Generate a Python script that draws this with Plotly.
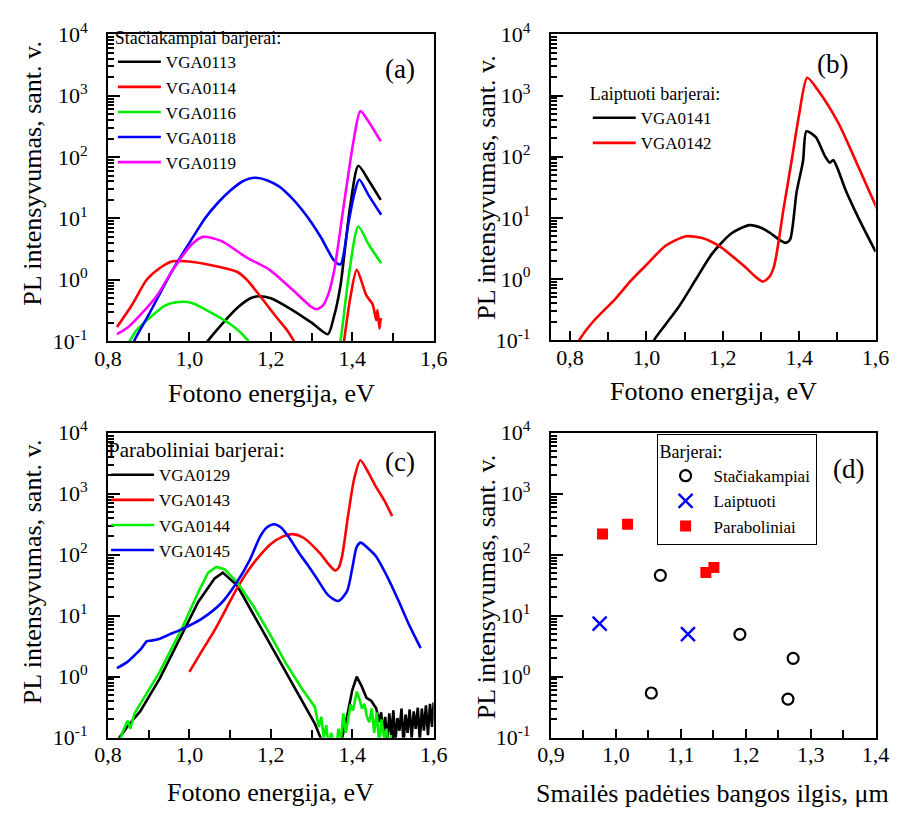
import plotly.graph_objects as go

# ---------------- (a) rectangular barriers ----------------
e_0113 = [1.030, 1.045, 1.08, 1.12, 1.15, 1.17, 1.20, 1.25, 1.30, 1.34, 1.355, 1.371, 1.395, 1.415, 1.44, 1.47]
i_0113 = [0.07, 0.10, 0.19, 0.36, 0.50, 0.54, 0.50, 0.33, 0.20, 0.13, 0.25, 0.80, 16, 72, 42, 20]

e_0114 = [0.822, 0.86, 0.895, 0.93, 0.959, 0.99, 1.054, 1.117, 1.141, 1.173, 1.213, 1.24, 1.253, 1.265,
          None, 1.378, 1.395, 1.411, 1.435, 1.450, 1.459, 1.462, 1.467, 1.470]
i_0114 = [0.17, 0.40, 1.0, 1.6, 2.0, 2.0, 1.73, 1.35, 1.0, 0.55, 0.25, 0.15, 0.11, 0.08,
          None, 0.08, 0.5, 1.45, 0.55, 0.40, 0.22, 0.32, 0.16, 0.24]

e_0116 = [0.845, 0.870, 0.911, 0.940, 0.967, 1.006, 1.062, 1.110, 1.140, 1.155,
          None, 1.365, 1.371, 1.391, 1.415, 1.44, 1.471]
i_0116 = [0.08, 0.15, 0.27, 0.38, 0.43, 0.42, 0.27, 0.17, 0.11, 0.08,
          None, 0.07, 0.10, 1.1, 7.4, 3.8, 1.86]

e_0118 = [0.855, 0.864, 0.90, 0.959, 1.00, 1.038, 1.07, 1.102, 1.13, 1.161, 1.19, 1.221, 1.25,
          1.276, 1.30, 1.324, 1.355, 1.371, 1.391, 1.405, 1.417, 1.44, 1.471]
i_0118 = [0.07, 0.10, 0.27, 1.45, 4.0, 10, 18, 29, 40, 46, 42, 33, 22,
          14, 8.5, 4.8, 2.07, 1.78, 8.7, 25, 43, 24, 11.5]

e_0119 = [0.822, 0.85, 0.88, 0.92, 0.959, 1.006, 1.034, 1.078, 1.141, 1.197, 1.252, 1.30, 1.312,
          1.328, 1.342, 1.356, 1.379, 1.403, 1.42, 1.44, 1.47]
i_0119 = [0.13, 0.17, 0.27, 0.55, 1.45, 3.8, 5.0, 4.3, 2.3, 1.45, 0.70, 0.36, 0.33,
          0.38, 0.6, 1.45, 16, 180, 560, 380, 180]

# ---------------- (b) stepped barriers ----------------
e_0141 = [1.00, 1.02, 1.05, 1.087, 1.13, 1.172, 1.223, 1.27, 1.30, 1.325, 1.35, 1.364, 1.376,
          1.393, 1.41, 1.419, 1.443, 1.468, 1.480, 1.489, 1.50, 1.52, 1.555, 1.60]
i_0141 = [0.05, 0.10, 0.18, 0.37, 1.0, 2.6, 5.6, 7.6, 6.9, 5.6, 4.3, 3.9, 4.4,
          26, 85, 260, 210, 100, 80, 88, 65, 30, 10, 2.8]

e_0142 = [0.80, 0.824, 0.86, 0.918, 0.96, 1.003, 1.05, 1.104, 1.15, 1.189, 1.22, 1.257, 1.285,
          1.304, 1.32, 1.334, 1.359, 1.38, 1.40, 1.421, 1.45, 1.502, 1.55, 1.604]
i_0142 = [0.05, 0.10, 0.2, 0.47, 0.95, 1.78, 3.5, 5.0, 4.6, 3.5, 2.5, 1.6, 1.1,
          0.91, 1.05, 1.6, 14, 85, 500, 1950, 1200, 360, 80, 14]

# ---------------- (c) parabolic barriers ----------------
e_0129 = [0.820, 0.828, 0.850, 0.879, 0.927, 0.983, 1.022, 1.062, 1.082, 1.117, 1.157, 1.197,
          1.236, 1.276, 1.308, 1.322, 1.335,
          None, 1.372, 1.387, 1.400, 1.411, 1.423, 1.435, 1.447, 1.459,
          1.466, 1.471, 1.476, 1.481, 1.486, 1.491, 1.496, 1.501, 1.506, 1.511, 1.516, 1.521,
          1.526, 1.531, 1.536, 1.541, 1.546, 1.551, 1.556, 1.561, 1.566, 1.571, 1.576, 1.581,
          1.586, 1.591, 1.596, 1.600]
i_0129 = [0.06, 0.10, 0.16, 0.27, 0.93, 5.1, 17, 41, 51, 31.6, 10.6, 3.5,
          1.2, 0.40, 0.17, 0.10, 0.07,
          None, 0.08, 0.22, 0.60, 1.0, 0.70, 0.45, 0.40, 0.30,
          0.18, 0.26, 0.12, 0.22, 0.08, 0.25, 0.11, 0.28, 0.09, 0.21, 0.13, 0.30,
          0.08, 0.24, 0.12, 0.29, 0.10, 0.27, 0.14, 0.31, 0.09, 0.30, 0.13, 0.34,
          0.11, 0.36, 0.15, 0.38]

e_0143 = [1.000, 1.030, 1.062, 1.090, 1.117, 1.140, 1.165, 1.20, 1.23, 1.254, 1.28, 1.32,
          1.345, 1.358, 1.367, 1.375, 1.39, 1.405, 1.42, 1.44, 1.457, 1.48, 1.498]
i_0143 = [1.2, 2.6, 5.8, 13, 28, 50, 84, 150, 200, 218, 190, 107,
          66, 55, 62, 94, 450, 1800, 3550, 2200, 1350, 750, 430]

e_0144 = [0.825, 0.835, 0.848, 0.855, 0.865, 0.879, 0.927, 0.983, 1.022, 1.046, 1.066, 1.086,
          1.117, 1.157, 1.197, 1.236, 1.276, 1.308, 1.318, 1.324, 1.330, 1.336, 1.342, 1.348,
          1.354, 1.360, 1.366, 1.372, 1.378, 1.384, 1.390, 1.396, 1.402, 1.411, 1.418, 1.424,
          1.430, 1.436, 1.442, 1.448, 1.454, 1.460, 1.466, 1.472, 1.478, 1.484, 1.490, 1.496, 1.500]
i_0144 = [0.07, 0.12, 0.19, 0.14, 0.25, 0.36, 1.2, 6.5, 24.5, 51, 63, 58,
          35.7, 14.4, 5.1, 1.7, 0.64, 0.32, 0.15, 0.22, 0.10, 0.16, 0.07, 0.12,
          0.08, 0.06, 0.14, 0.09, 0.25, 0.12, 0.20, 0.35, 0.28, 0.57, 0.42, 0.30,
          0.36, 0.22, 0.18, 0.30, 0.12, 0.26, 0.08, 0.20, 0.10, 0.14, 0.07, 0.11, 0.06]

e_0145 = [0.822, 0.845, 0.864, 0.880, 0.895, 0.905, 0.923, 0.95, 0.983, 1.030, 1.078, 1.117,
          1.149, 1.173, 1.19, 1.208, 1.225, 1.244, 1.27, 1.292, 1.316, 1.34, 1.365, 1.387,
          1.40, 1.411, 1.421, 1.44, 1.459, 1.485, 1.514, 1.54, 1.568]
i_0145 = [1.38, 1.7, 2.2, 2.8, 3.8, 3.9, 4.1, 4.9, 6.1, 8.9, 16, 35.7,
          84, 195, 280, 316, 280, 195, 105, 66, 38, 22, 17.4, 25,
          60, 135, 158, 125, 93, 45, 17.4, 7.0, 2.95]

# ---------------- (d) peak intensity vs. peak wavelength ----------------
wl_rect = [1.0546, 1.0685, 1.191, 1.273, 1.265]
pl_rect = [0.54, 46, 4.95, 2.0, 0.43]
wl_step = [0.975, 1.111]
pl_step = [7.4, 5.0]
wl_parab = [0.9795, 1.018, 1.1386, 1.151]
pl_parab = [218, 316, 51, 62]

# tick labels
y_tickvals = [0.1, 1, 10, 100, 1000, 10000]
y_ticktext = ["10<sup>-1</sup>", "10<sup>0</sup>", "10<sup>1</sup>",
              "10<sup>2</sup>", "10<sup>3</sup>", "10<sup>4</sup>"]
e_tickvals = [0.8, 1.0, 1.2, 1.4, 1.6]
e_ticktext = ["0,8", "1,0", "1,2", "1,4", "1,6"]
e_minor = [0.9, 1.1, 1.3, 1.5]
wl_tickvals = [0.9, 1.0, 1.1, 1.2, 1.3, 1.4]
wl_ticktext = ["0,9", "1,0", "1,1", "1,2", "1,3", "1,4"]
wl_minor = [0.95, 1.05, 1.15, 1.25, 1.35]

SERIF = "Times New Roman, Liberation Serif, serif"
W, H = 909, 824
BLACK, RED, GREEN, BLUE, MAGENTA = "#000000", "#ff0000", "#00ee00", "#0000ff", "#ff00ff"
LW = 2.6

fig = go.Figure()


def spectrum(x, y, name, color, axis_n, legend, smooth=True):
    ax = "" if axis_n == 1 else str(axis_n)
    fig.add_trace(go.Scatter(
        x=x, y=y, name=name, mode="lines",
        line=dict(color=color, width=LW, shape="spline" if smooth else "linear", smoothing=0.7),
        xaxis="x" + ax, yaxis="y" + ax, legend=legend, connectgaps=False,
    ))


spectrum(e_0113, i_0113, "VGA0113", BLACK, 1, "legend")
spectrum(e_0114, i_0114, "VGA0114", RED, 1, "legend")
spectrum(e_0116, i_0116, "VGA0116", GREEN, 1, "legend")
spectrum(e_0118, i_0118, "VGA0118", BLUE, 1, "legend")
spectrum(e_0119, i_0119, "VGA0119", MAGENTA, 1, "legend")

spectrum(e_0141, i_0141, "VGA0141", BLACK, 2, "legend2")
spectrum(e_0142, i_0142, "VGA0142", RED, 2, "legend2")

spectrum(e_0129, i_0129, "VGA0129", BLACK, 3, "legend3", smooth=False)
spectrum(e_0143, i_0143, "VGA0143", RED, 3, "legend3")
spectrum(e_0144, i_0144, "VGA0144", GREEN, 3, "legend3", smooth=False)
spectrum(e_0145, i_0145, "VGA0145", BLUE, 3, "legend3")

fig.add_trace(go.Scatter(
    x=wl_rect, y=pl_rect, name="Stačiakampiai", mode="markers",
    marker=dict(symbol="circle-open", size=11, color=BLACK, line=dict(width=2.2)),
    xaxis="x4", yaxis="y4", legend="legend4"))
fig.add_trace(go.Scatter(
    x=wl_step, y=pl_step, name="Laiptuoti", mode="markers",
    marker=dict(symbol="x-thin-open", size=14, color=BLUE, line=dict(width=2.4, color=BLUE)),
    xaxis="x4", yaxis="y4", legend="legend4"))
fig.add_trace(go.Scatter(
    x=wl_parab, y=pl_parab, name="Paraboliniai", mode="markers",
    marker=dict(symbol="square", size=11, color=RED),
    xaxis="x4", yaxis="y4", legend="legend4"))

# panel geometry in pixels (left, right, top, bottom)
boxes = {
    1: (97, 433, 19, 337),
    2: (554, 889, 19, 336),
    3: (97, 433, 432, 748),
    4: (554, 889, 432, 748),
}

frame = dict(showline=True, linecolor="black", linewidth=2, mirror=True,
             ticks="inside", tickcolor="black", tickwidth=2,
             showgrid=False, zeroline=False,
             tickfont=dict(family=SERIF, size=22, color="black"))

y_minor_vals = [k * 10.0 ** d for d in range(-1, 4) for k in range(2, 10)]

layout = dict(width=W, height=H, margin=dict(l=0, r=0, t=0, b=0),
              paper_bgcolor="white", plot_bgcolor="white",
              font=dict(family=SERIF, color="black"))

for n, (l, r, t, b) in boxes.items():
    ax = "" if n == 1 else str(n)
    if n == 2:
        xr = [0.75, 1.6]
    elif n == 4:
        xr = [0.9, 1.4]
    else:
        xr = [0.8, 1.6]
    if n == 4:
        tv, tt, mv = wl_tickvals, wl_ticktext, wl_minor
    else:
        tv, tt, mv = e_tickvals, e_ticktext, e_minor
    layout["xaxis" + ax] = dict(
        frame, domain=[l / W, r / W], range=xr, anchor="y" + ax,
        tickmode="array", tickvals=tv, ticktext=tt, ticklen=9, ticklabelstandoff=-4,
        minor=dict(ticks="inside", tickmode="array", tickvals=mv, ticklen=8,
                   tickwidth=2, tickcolor="black", showgrid=False))
    layout["yaxis" + ax] = dict(
        frame, domain=[1 - b / H, 1 - t / H], type="log", range=[-1, 4], anchor="x" + ax,
        tickmode="array", tickvals=y_tickvals, ticktext=y_ticktext, ticklen=12,
        ticklabelstandoff=14,
        minor=dict(ticks="inside", tickmode="array", tickvals=y_minor_vals, ticklen=6,
                   tickwidth=1.5, tickcolor="black", showgrid=False))

leg_common = dict(bgcolor="rgba(0,0,0,0)", xanchor="left", yanchor="top",
                  font=dict(family=SERIF, size=17, color="black"),
                  itemwidth=43, tracegroupgap=0, traceorder="normal")

layout["legend"] = dict(leg_common, x=102 / W, y=1 - 5 / H,
                        title=dict(text="Stačiakampiai barjerai:",
                                   font=dict(family=SERIF, size=18)))
layout["legend2"] = dict(leg_common, x=592 / W, y=1 - 63 / H,
                         title=dict(text="Laiptuoti barjerai:",
                                    font=dict(family=SERIF, size=18)))
layout["legend3"] = dict(leg_common, x=95 / W, y=1 - 429 / H,
                         title=dict(text="Paraboliniai barjerai:",
                                    font=dict(family=SERIF, size=21)))
layout["legend4"] = dict(leg_common, x=663 / W, y=1 - 433 / H,
                         bgcolor="white", bordercolor="black", borderwidth=1,
                         itemwidth=46,
                         title=dict(text="Barjerai:", font=dict(family=SERIF, size=18)))

fig.update_layout(**layout)

ann = []
ytitle = "PL intensyvumas, sant. v."
for (xp, yp) in [(19, 163), (488, 177), (19, 576), (487, 591)]:
    ann.append(dict(text=ytitle, x=xp / W, y=1 - yp / H, xref="paper", yref="paper",
                    textangle=-90, showarrow=False, xanchor="center", yanchor="middle",
                    font=dict(family=SERIF, size=26, color="black")))
for (txt, xp, yp) in [("Fotono energija, eV", 266, 391),
                      ("Fotono energija, eV", 722, 389),
                      ("Fotono energija, eV", 265, 805),
                      ("Smailės padėties bangos ilgis, μm", 721, 806)]:
    ann.append(dict(text=txt, x=xp / W, y=1 - yp / H, xref="paper", yref="paper",
                    showarrow=False, xanchor="center", yanchor="middle",
                    font=dict(family=SERIF, size=26, color="black")))
for (txt, xp, yp) in [("(a)", 398, 55), ("(b)", 844, 50), ("(c)", 398, 462), ("(d)", 861, 470)]:
    ann.append(dict(text=txt, x=xp / W, y=1 - yp / H, xref="paper", yref="paper",
                    showarrow=False, xanchor="center", yanchor="middle",
                    font=dict(family=SERIF, size=27, color="black")))
fig.update_layout(annotations=ann)

fig.write_html("out.html")
